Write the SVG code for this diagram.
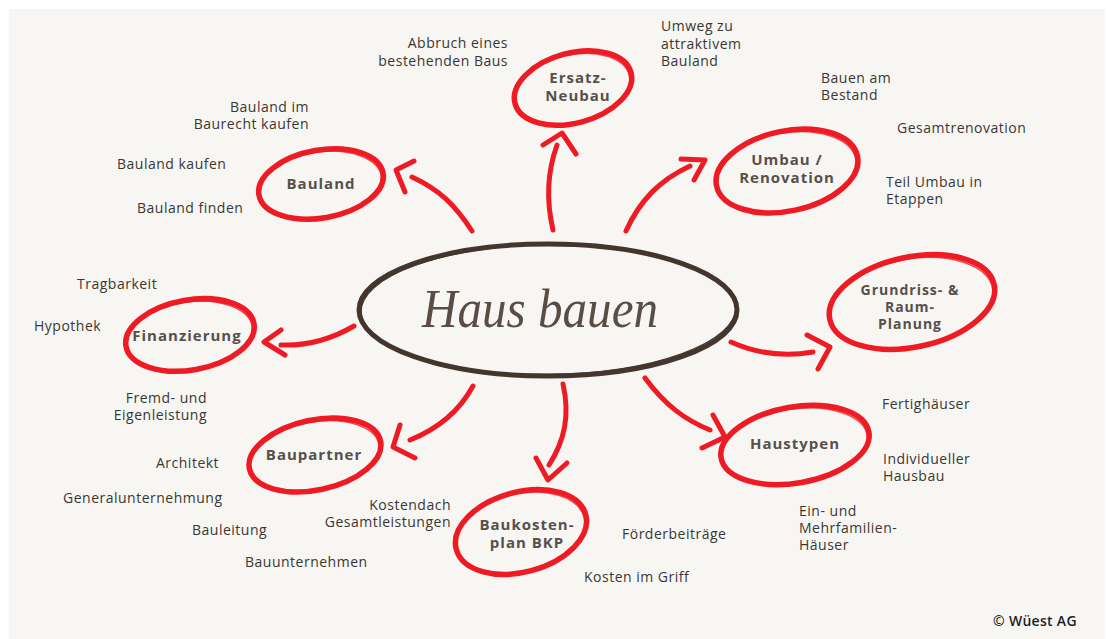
<svg xmlns="http://www.w3.org/2000/svg" width="1108" height="639" viewBox="0 0 1108 639">
<style>
.bg{fill:#f7f6f3}
.ring{fill:none;stroke:#ee1b24;stroke-width:5.5}
.ring2{fill:none;stroke:#ee1b24;stroke-width:1.5;opacity:0.8}
.arr{fill:none;stroke:#ee1b24;stroke-width:5;stroke-linecap:round;stroke-linejoin:round}
.lbl{font-family:"Open Sans","Liberation Sans",sans-serif;font-size:15px;font-weight:700;fill:#57504a;letter-spacing:1px;text-anchor:middle}
.sm{font-size:14px}
.t{font-family:"Open Sans","Liberation Sans",sans-serif;font-size:14px;fill:#3a3633;letter-spacing:0.5px}
.e{text-anchor:end}
</style>
<rect class="bg" x="9" y="9" width="1096" height="630"/>

<g id="center">
<ellipse cx="548" cy="310" rx="189" ry="66" fill="none" stroke="#43362f" stroke-width="5"/>
<ellipse cx="548.5" cy="309.5" rx="187.5" ry="65" fill="none" stroke="#43362f" stroke-width="1.5" transform="rotate(-0.7 548 310)"/>
<text x="540" y="327" font-family="'Liberation Serif',serif" font-style="italic" font-size="54" fill="#5a4d45" text-anchor="middle" textLength="236" lengthAdjust="spacingAndGlyphs">Haus bauen</text>
</g>

<g id="connectors">
<path class="arr" d="M472,231 C455,205 440,190 412,177"/>
<polyline class="arr" points="414,161 396,170 405,192"/>
<path class="arr" d="M553,230 C546,200 548,170 557,145"/>
<polyline class="arr" points="543,145 562,133 576,154"/>
<path class="arr" d="M626,231 C640,200 660,180 690,166"/>
<polyline class="arr" points="681,159 705,160 694,180"/>
<path class="arr" d="M731,342 C760,355 790,356 813,352"/>
<polyline class="arr" points="807,335 830,347 818,369"/>
<path class="arr" d="M645,378 C665,405 685,420 710,430"/>
<polyline class="arr" points="713,415 725,437 702,448"/>
<path class="arr" d="M563,384 C570,415 565,440 549,465"/>
<polyline class="arr" points="536,458 548,480 567,463"/>
<path class="arr" d="M473,386 C460,410 440,428 410,440"/>
<polyline class="arr" points="400,425 393,447 415,458"/>
<path class="arr" d="M354,326 C330,340 305,346 281,345"/>
<polyline class="arr" points="281,330 264,342 285,355"/>
</g>

<g id="n-ersatz">
<ellipse class="ring" cx="573" cy="88" rx="60" ry="35" transform="rotate(-15 573 88)"/>
<ellipse class="ring2" cx="572" cy="89" rx="59" ry="34" transform="rotate(-13 572 89)"/>
<text class="lbl" x="578" y="83">Ersatz-</text>
<text class="lbl" x="578" y="101">Neubau</text>
</g>

<g id="n-bauland">
<ellipse class="ring" cx="321" cy="184" rx="63" ry="34" transform="rotate(-10 321 184)"/>
<ellipse class="ring2" cx="320" cy="185" rx="62" ry="33" transform="rotate(-8 320 185)"/>
<text class="lbl" x="321" y="189">Bauland</text>
</g>

<g id="n-umbau">
<ellipse class="ring" cx="787" cy="171" rx="72" ry="40" transform="rotate(-12 787 171)"/>
<ellipse class="ring2" cx="786" cy="172" rx="71" ry="39" transform="rotate(-10 786 172)"/>
<text class="lbl" x="787" y="165">Umbau /</text>
<text class="lbl" x="787" y="183">Renovation</text>
</g>

<g id="n-grundriss">
<ellipse class="ring" cx="912" cy="302" rx="84" ry="45" transform="rotate(-12 912 302)"/>
<ellipse class="ring2" cx="911" cy="303" rx="83" ry="44" transform="rotate(-10 911 303)"/>
<text class="lbl sm" x="910" y="295">Grundriss- &amp;</text>
<text class="lbl sm" x="910" y="312">Raum-</text>
<text class="lbl sm" x="910" y="329">Planung</text>
</g>

<g id="n-finanzierung">
<ellipse class="ring" cx="190" cy="335" rx="65" ry="35" transform="rotate(-10 190 335)"/>
<ellipse class="ring2" cx="189" cy="336" rx="64" ry="34" transform="rotate(-8 189 336)"/>
<text class="lbl" x="187" y="341">Finanzierung</text>
</g>

<g id="n-baupartner">
<ellipse class="ring" cx="315" cy="455" rx="67" ry="35" transform="rotate(-12 315 455)"/>
<ellipse class="ring2" cx="314" cy="456" rx="66" ry="34" transform="rotate(-10 314 456)"/>
<text class="lbl" x="314" y="460">Baupartner</text>
</g>

<g id="n-baukosten">
<ellipse class="ring" cx="521" cy="532" rx="67" ry="40" transform="rotate(-15 521 532)"/>
<ellipse class="ring2" cx="520" cy="533" rx="66" ry="39" transform="rotate(-13 520 533)"/>
<text class="lbl" x="527" y="530">Baukosten-</text>
<text class="lbl" x="527" y="548">plan BKP</text>
</g>

<g id="n-haustypen">
<ellipse class="ring" cx="795" cy="445" rx="75" ry="38" transform="rotate(-10 795 445)"/>
<ellipse class="ring2" cx="794" cy="446" rx="74" ry="37" transform="rotate(-8 794 446)"/>
<text class="lbl" x="795" y="449">Haustypen</text>
</g>

<g id="texts">
<text class="t e" x="508" y="48">Abbruch eines</text>
<text class="t e" x="508" y="66">bestehenden Baus</text>
<text class="t" x="661" y="31">Umweg zu</text>
<text class="t" x="661" y="49">attraktivem</text>
<text class="t" x="661" y="66">Bauland</text>
<text class="t" x="821" y="83">Bauen am</text>
<text class="t" x="821" y="100">Bestand</text>
<text class="t" x="897" y="133">Gesamtrenovation</text>
<text class="t" x="886" y="187">Teil Umbau in</text>
<text class="t" x="886" y="204">Etappen</text>
<text class="t e" x="309" y="112">Bauland im</text>
<text class="t e" x="309" y="129">Baurecht kaufen</text>
<text class="t" x="117" y="169">Bauland kaufen</text>
<text class="t" x="137" y="213">Bauland finden</text>
<text class="t" x="77" y="289">Tragbarkeit</text>
<text class="t" x="34" y="331">Hypothek</text>
<text class="t e" x="207" y="403">Fremd- und</text>
<text class="t e" x="207" y="420">Eigenleistung</text>
<text class="t" x="156" y="468">Architekt</text>
<text class="t" x="63" y="503">Generalunternehmung</text>
<text class="t" x="192" y="535">Bauleitung</text>
<text class="t" x="245" y="567">Bauunternehmen</text>
<text class="t e" x="451" y="510">Kostendach</text>
<text class="t e" x="451" y="527">Gesamtleistungen</text>
<text class="t" x="622" y="539">Förderbeiträge</text>
<text class="t" x="584" y="582">Kosten im Griff</text>
<text class="t" x="882" y="409">Fertighäuser</text>
<text class="t" x="883" y="464">Individueller</text>
<text class="t" x="883" y="481">Hausbau</text>
<text class="t" x="799" y="516">Ein- und</text>
<text class="t" x="799" y="533">Mehrfamilien-</text>
<text class="t" x="799" y="550">Häuser</text>
<text x="993" y="626" font-family="'Open Sans','Liberation Sans',sans-serif" font-size="14" font-weight="600" fill="#1e1e1e" letter-spacing="0.3">© Wüest AG</text>
</g>
</svg>
